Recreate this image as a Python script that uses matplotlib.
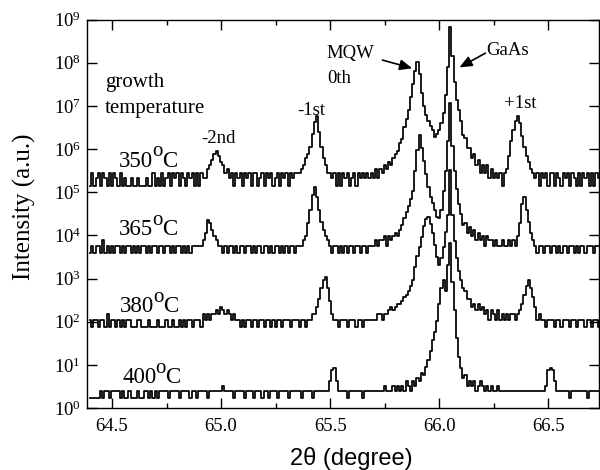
import numpy as np
import matplotlib
matplotlib.use("Agg")
import matplotlib.pyplot as plt
import matplotlib.transforms as mtransforms
from matplotlib.ticker import FixedLocator, MultipleLocator, FuncFormatter, NullLocator

plt.rcParams['font.family'] = ['Liberation Serif', 'DejaVu Serif']
plt.rcParams['mathtext.fontset'] = 'custom'
plt.rcParams['mathtext.rm'] = 'Liberation Serif'
plt.rcParams['mathtext.it'] = 'Liberation Serif:italic'
plt.rcParams['mathtext.bf'] = 'Liberation Serif:bold'

# scan axis: 2theta from 64.40 deg in 0.01 deg steps
scan_start, scan_step, scan_points = 64.40, 0.01, 234
two_theta = np.round(scan_start + scan_step * np.arange(scan_points), 2)

# detector counts for each growth temperature (one row = 0.1 deg)
counts_350 = [
    2, 4, 2, 3, 4, 2, 4, 3, 2, 4,
    2, 4, 3, 2, 4, 2, 3, 2, 2, 3,
    2, 2, 3, 2, 2, 2, 3, 2, 2, 4,
    2, 3, 2, 4, 2, 3, 4, 2, 4, 3,
    4, 2, 4, 3, 2, 4, 3, 4, 2, 4,
    2, 4, 3, 3, 5, 6, 8, 11, 13, 10,
    7, 6, 4, 5, 3, 4, 2, 4, 3, 4,
    2, 4, 3, 4, 2, 4, 4, 2, 3, 4,
    2, 4, 3, 4, 2, 3, 4, 2, 4, 3,
    4, 2, 4, 3, 4, 4, 4, 5, 6, 9,
    11, 16, 32, 60, 83, 36, 16, 9, 6, 4,
    4, 3, 4, 2, 4, 2, 4, 3, 4, 2,
    3, 4, 2, 4, 3, 4, 3, 4, 3, 4,
    3, 5, 3, 5, 4, 6, 5, 7, 6, 9,
    11, 13, 20, 24, 45, 71, 112, 224, 469, 893,
    1450, 796, 282, 142, 89, 63, 50, 40, 27, 32,
    39, 56, 96, 252, 1125, 9800, 2000, 502, 200, 112,
    63, 30, 26, 15, 15, 9, 11, 6, 8, 4,
    6, 4, 6, 3, 5, 3, 4, 3, 4, 2,
    4, 5, 10, 22, 40, 63, 85, 56, 28, 16,
    10, 7, 5, 4, 3, 4, 2, 4, 3, 4,
    2, 4, 4, 2, 4, 3, 2, 4, 3, 4,
    2, 4, 3, 2, 4, 2, 4, 3, 4, 2,
    4, 2, 4, 3]

counts_365 = [
    2, 3, 2, 3, 3, 2, 4, 2, 3, 2,
    3, 2, 3, 3, 2, 3, 2, 3, 3, 2,
    3, 2, 3, 2, 3, 3, 2, 3, 2, 3,
    3, 2, 3, 3, 2, 3, 3, 2, 3, 2,
    3, 3, 2, 3, 2, 3, 2, 3, 3, 3,
    3, 3, 4, 6, 12, 10, 7, 5, 4, 3,
    3, 2, 3, 2, 3, 3, 2, 3, 2, 3,
    3, 2, 3, 3, 2, 3, 2, 3, 3, 2,
    3, 3, 2, 3, 2, 3, 3, 2, 3, 2,
    3, 2, 3, 3, 2, 3, 3, 3, 4, 5,
    10, 20, 45, 69, 40, 20, 11, 7, 5, 4,
    3, 2, 3, 3, 2, 3, 2, 3, 2, 3,
    3, 2, 3, 3, 2, 3, 3, 2, 3, 3,
    3, 4, 3, 4, 4, 5, 3, 5, 4, 5,
    6, 5, 7, 9, 13, 18, 25, 36, 56, 159,
    502, 1099, 564, 283, 142, 69, 40, 30, 20, 14,
    13, 20, 56, 159, 796, 6040, 632, 159, 63, 28,
    16, 9, 10, 6, 8, 5, 7, 4, 6, 4,
    5, 3, 5, 4, 4, 3, 4, 3, 3, 4,
    3, 3, 4, 3, 4, 3, 5, 10, 28, 40,
    20, 11, 6, 4, 3, 2, 3, 3, 2, 3,
    3, 2, 3, 3, 2, 3, 2, 3, 3, 2,
    3, 3, 2, 3, 2, 3, 3, 2, 3, 3,
    3, 2, 3, 3]

counts_380 = [
    3, 2, 3, 3, 2, 3, 3, 2, 4, 2,
    3, 3, 2, 3, 2, 3, 2, 3, 3, 2,
    2, 2, 3, 3, 2, 2, 2, 3, 2, 2,
    2, 3, 2, 2, 2, 3, 2, 2, 3, 2,
    2, 3, 2, 3, 2, 3, 3, 2, 3, 3,
    3, 2, 4, 3, 4, 3, 4, 4, 5, 4,
    6, 5, 4, 5, 4, 3, 4, 3, 3, 2,
    3, 2, 3, 3, 2, 3, 3, 2, 3, 3,
    2, 3, 3, 2, 3, 2, 3, 3, 2, 3,
    3, 3, 2, 3, 3, 3, 2, 3, 3, 2,
    3, 3, 4, 4, 6, 9, 16, 25, 29, 16,
    8, 4, 3, 3, 2, 3, 3, 3, 2, 3,
    3, 3, 2, 3, 3, 2, 3, 3, 3, 3,
    3, 3, 4, 4, 3, 4, 4, 5, 6, 5,
    6, 7, 7, 8, 10, 11, 14, 18, 25, 50,
    89, 145, 252, 448, 632, 710, 502, 303, 159, 85,
    55, 80, 145, 317, 796, 8730, 796, 200, 80, 40,
    25, 16, 14, 9, 9, 6, 7, 5, 7, 5,
    6, 4, 5, 3, 5, 4, 3, 5, 3, 4,
    3, 4, 3, 4, 4, 3, 4, 5, 7, 11,
    18, 25, 16, 10, 6, 3, 4, 3, 3, 2,
    3, 3, 3, 2, 3, 3, 2, 3, 3, 3,
    2, 3, 3, 2, 3, 3, 3, 2, 3, 3,
    2, 3, 3, 2]

counts_400 = [
    2, 2, 2, 2, 2, 3, 2, 3, 3, 2,
    3, 3, 3, 3, 2, 3, 2, 2, 3, 2,
    2, 2, 3, 2, 2, 3, 3, 2, 3, 2,
    3, 2, 3, 3, 3, 3, 2, 3, 3, 3,
    3, 2, 3, 3, 3, 3, 2, 3, 3, 2,
    3, 3, 3, 3, 2, 3, 3, 3, 3, 3,
    3, 4, 3, 3, 3, 3, 2, 3, 3, 3,
    3, 2, 3, 3, 3, 2, 3, 3, 3, 2,
    3, 3, 2, 3, 3, 3, 2, 3, 3, 3,
    3, 2, 3, 3, 3, 3, 3, 2, 3, 3,
    3, 3, 2, 3, 3, 3, 3, 3, 3, 3,
    5, 9, 10, 5, 3, 3, 3, 3, 2, 3,
    3, 3, 3, 3, 3, 2, 3, 3, 3, 3,
    3, 3, 3, 3, 3, 4, 3, 3, 3, 4,
    3, 4, 3, 4, 3, 5, 4, 3, 5, 4,
    6, 5, 8, 7, 11, 16, 25, 45, 71, 126,
    317, 710, 1125, 632, 2518, 7962, 1002, 224, 50, 18,
    10, 6, 7, 4, 5, 4, 5, 3, 4, 5,
    4, 3, 4, 3, 4, 3, 3, 4, 3, 3,
    3, 3, 3, 3, 3, 3, 3, 3, 3, 3,
    3, 3, 3, 3, 3, 3, 3, 3, 3, 4,
    9, 10, 9, 5, 3, 3, 3, 3, 3, 3,
    2, 3, 3, 3, 3, 3, 3, 3, 2, 3,
    3, 3, 3, 3]

# vertical offset factors used to stack the scans
temperatures = ['350', '365', '380', '400']
offset_factors = [7.0e4, 1.9e3, 37.0, 0.83]
scans = [counts_350, counts_365, counts_380, counts_400]

# temperature label anchors (2theta, intensity)
label_x = [64.532, 64.532, 64.537, 64.546]
label_y = [10**5.59, 10**4.00, 10**2.22, 10**0.58]

x_ticks = [64.5, 65.0, 65.5, 66.0, 66.5]
y_exponents = list(range(0, 10))

fig = plt.figure(figsize=(6.0, 4.7), dpi=100)
ax = fig.add_axes([86.7 / 600, 1 - 408 / 470, (599.5 - 86.7) / 600, (408 - 19.5) / 470])

for counts, factor in zip(scans, offset_factors):
    ax.plot(two_theta, np.asarray(counts, dtype=float) * factor,
            drawstyle='steps-mid', color='black', lw=1.25)

ax.set_yscale('log')
ax.set_xlim(64.384, 66.734)
ax.set_ylim(1, 1e9)

ax.xaxis.set_major_locator(FixedLocator(x_ticks))
ax.xaxis.set_minor_locator(MultipleLocator(0.25))
ax.xaxis.set_major_formatter(FuncFormatter(lambda v, p: f"{v:.1f}"))
ax.yaxis.set_major_locator(FixedLocator([10.0**k for k in y_exponents]))
ax.yaxis.set_minor_locator(NullLocator())
ax.yaxis.set_major_formatter(FuncFormatter(lambda v, p: rf"$10^{{{int(round(np.log10(v)))}}}$"))

ax.tick_params(which='both', direction='in', top=True, right=True, width=1.0, colors='black')
ax.tick_params(which='major', length=7, labelsize=13.5)
ax.tick_params(axis='x', which='major', pad=7)
ax.tick_params(axis='y', which='major', pad=4)
ax.tick_params(which='minor', length=3.5)
for s in ax.spines.values():
    s.set_linewidth(1.0)

# temperature labels drawn as number, raised "o" and "C"
for t, lx, ly in zip(temperatures, label_x, label_y):
    ax.text(lx, ly, t, fontsize=16.5, va='baseline', ha='left')
    t_o = mtransforms.offset_copy(ax.transData, fig=fig, x=24.0, y=7.5, units='points')
    ax.text(lx, ly, 'o', transform=t_o, fontsize=15, va='baseline', ha='left')
    t_c = mtransforms.offset_copy(ax.transData, fig=fig, x=31.0, y=0.0, units='points')
    ax.text(lx, ly, 'C', transform=t_c, fontsize=16.5, va='baseline', ha='left')

ax.text(64.468, 10**7.43, 'growth', fontsize=15, va='baseline', ha='left')
ax.text(64.468, 10**6.83, 'temperature', fontsize=15, va='baseline', ha='left')

peak_fs = 13.5
ax.text(64.986, 10**6.13, '-2nd', fontsize=peak_fs, va='baseline', ha='center')
ax.text(65.415, 10**6.78, '-1st', fontsize=peak_fs, va='baseline', ha='center')
ax.text(66.370, 10**6.94, '+1st', fontsize=peak_fs, va='baseline', ha='center')
ax.text(65.482, 10**8.10, 'MQW', fontsize=peak_fs, va='baseline', ha='left')
ax.text(65.486, 10**7.52, '0th', fontsize=peak_fs, va='baseline', ha='left')
ax.text(66.216, 10**8.17, 'GaAs', fontsize=peak_fs, va='baseline', ha='left')

arrow_style = dict(arrowstyle='-|>,head_length=0.75,head_width=0.32', color='black',
                   lw=1.2, shrinkA=0, shrinkB=0, mutation_scale=10)
ax.annotate('', xy=(65.876, 10**7.87), xytext=(65.739, 10**8.06), arrowprops=arrow_style)
ax.annotate('', xy=(66.092, 10**7.89), xytext=(66.211, 10**8.22), arrowprops=arrow_style)

fig.text(351 / 600, 1 - 458 / 470, '2\u03b8 (degree)', family=['Liberation Sans', 'DejaVu Sans'],
         fontsize=17, ha='center', va='center')
fig.text(24 / 600, 1 - 207 / 470, 'Intensity (a.u.)', rotation=90, fontsize=18,
         ha='center', va='center')

fig.savefig('out.png', dpi=100)
